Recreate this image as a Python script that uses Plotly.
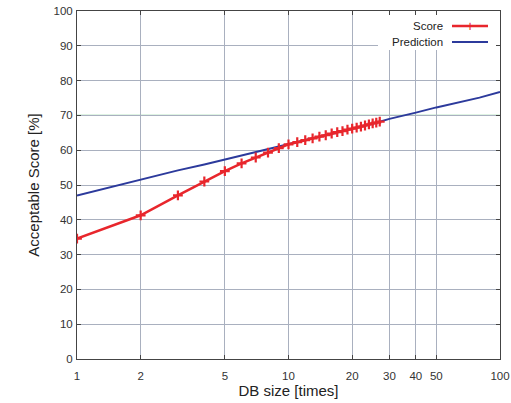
import plotly.graph_objects as go

# Data
score_x = list(range(1, 28))
score_y = [34.6, 41.3, 47.0, 51.0, 54.0, 56.2, 57.9, 59.3, 60.6, 61.7,
           62.3, 62.9, 63.4, 63.9, 64.3, 64.8, 65.2, 65.5, 65.9, 66.2,
           66.5, 66.8, 67.1, 67.4, 67.7, 67.9, 68.2]
pred_x = [1, 1.2, 1.5, 2, 2.5, 3, 4, 5, 6, 7, 8, 10, 12, 15, 20, 25, 30,
          35, 40, 50, 60, 70, 80, 100]
pred_y = [47.0, 48.2, 49.6, 51.5, 52.9, 54.2, 55.9, 57.3, 58.5, 59.5, 60.3,
          61.7, 62.8, 64.2, 66.1, 67.6, 69.0, 69.9, 70.8, 72.3, 73.4, 74.3,
          75.1, 76.7]
threshold = 70
x_ticks = [1, 2, 5, 10, 20, 30, 40, 50, 100]
y_ticks = list(range(0, 101, 10))

RED = "#e8262c"
BLUE = "#2c3a9c"
GRID = "#a9b0bf"
FONT = "Liberation Sans, Arial, sans-serif"

L, R, T, B = 77, 500, 11, 359  # plot area in pixels


def px(xp):
    return (xp - L) / (R - L)


def py(yp):
    return (B - yp) / (B - T)


fig = go.Figure()
fig.add_trace(go.Scatter(x=pred_x, y=pred_y, mode="lines",
                         line=dict(color=BLUE, width=2), name="Prediction",
                         showlegend=False))
fig.add_trace(go.Scatter(x=score_x, y=score_y, mode="lines+markers",
                         line=dict(color=RED, width=2.5),
                         marker=dict(symbol="cross-thin", size=7,
                                     line=dict(color=RED, width=2.2)),
                         name="Score", showlegend=False))

fig.add_hline(y=threshold, line=dict(color="#7ecf8f", width=1.2), layer="below")

# manual legend (text left of symbol)
fig.add_shape(type="rect", xref="paper", yref="paper",
              x0=px(378), x1=px(496), y0=py(50), y1=py(15),
              fillcolor="white", line=dict(width=0), layer="above")
for label, color, ypx in [("Score", RED, 26), ("Prediction", BLUE, 42)]:
    fig.add_annotation(x=px(445), y=py(ypx), xref="paper", yref="paper",
                       text=label, showarrow=False, xanchor="right",
                       yanchor="middle", font=dict(size=11.5, color="#222", family=FONT))
    fig.add_shape(type="line", xref="paper", yref="paper",
                  x0=px(452), x1=px(488), y0=py(ypx), y1=py(ypx),
                  line=dict(color=color, width=2.5 if color == RED else 2),
                  layer="above")
fig.add_annotation(x=px(470), y=py(26), xref="paper", yref="paper",
                   text="+", showarrow=False, xanchor="center", yanchor="middle",
                   font=dict(size=14, color=RED, family=FONT))

fig.update_layout(
    width=511, height=403,
    margin=dict(l=L, r=511 - R, t=T, b=403 - B, autoexpand=False),
    paper_bgcolor="white", plot_bgcolor="white",
    font=dict(family=FONT, color="#222"),
)
fig.update_xaxes(type="log", range=[0, 2], tickvals=x_ticks,
                 ticktext=[str(v) for v in x_ticks], automargin=False,
                 showgrid=True, gridcolor=GRID, gridwidth=1,
                 ticks="inside", ticklen=4, tickcolor="#444",
                 showline=True, linecolor="#444", linewidth=1, mirror="ticks",
                 tickfont=dict(size=11.5, color="#333"), ticklabelstandoff=6,
                 title=dict(text="DB size [times]", font=dict(size=15, color="#222"),
                            standoff=4),
                 zeroline=False)
fig.update_yaxes(range=[0, 100], tickvals=y_ticks, automargin=False,
                 showgrid=True, gridcolor=GRID, gridwidth=1,
                 ticks="inside", ticklen=4, tickcolor="#444",
                 showline=True, linecolor="#444", linewidth=1, mirror="ticks",
                 tickfont=dict(size=11.5, color="#333"), ticklabelstandoff=1,
                 title=dict(text="Acceptable Score [%]", font=dict(size=15, color="#222"),
                            standoff=10),
                 zeroline=False)

fig.write_html("out.html", config={"displayModeBar": False},
               post_script="document.body.style.margin='0';")
